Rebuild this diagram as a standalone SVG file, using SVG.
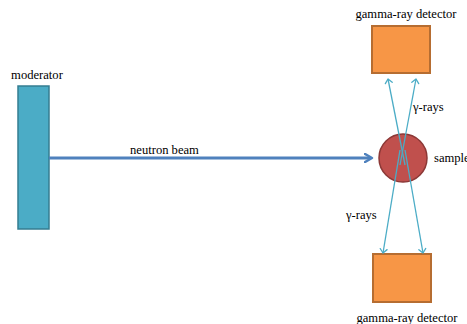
<svg xmlns="http://www.w3.org/2000/svg" width="467" height="324" viewBox="0 0 467 324">
<defs>
<style>
.t{font-family:"Liberation Serif","Times New Roman",Times,"DejaVu Serif",serif;font-size:12.6px;fill:#000}
.det{fill:#F79646;stroke:#B66D31;stroke-width:2}
.ray{stroke:#4BACC6;stroke-width:1.3;fill:none}
</style>
<marker id="beamhead" markerWidth="10" markerHeight="10" refX="7" refY="5" orient="auto" markerUnits="userSpaceOnUse">
<path d="M1,1 L8,5 L1,9" fill="none" stroke="#4F81BD" stroke-width="2.5" stroke-linecap="round" stroke-linejoin="round"/>
</marker>
<marker id="rayhead" markerWidth="10" markerHeight="10" refX="5" refY="5" orient="auto" markerUnits="userSpaceOnUse">
<path d="M1,1.5 L5,5 L1,8.5" fill="none" stroke="#4BACC6" stroke-width="1.3" stroke-linecap="round" stroke-linejoin="round"/>
</marker>
</defs>
<g id="moderator">
<rect x="18" y="86" width="31" height="143" fill="#4BACC6" stroke="#357D91" stroke-width="1.5"/>
<text class="t" x="37" y="79" text-anchor="middle" font-family="Liberation Serif">moderator</text>
</g>
<g id="sample">
<circle cx="403" cy="158" r="24" fill="#C0504D" stroke="#8C3836" stroke-width="1.5"/>
<text class="t" x="434" y="162" font-family="Liberation Serif">sample</text>
</g>
<g id="detector-top">
<rect class="det" x="372" y="26" width="58" height="47"/>
<text class="t" x="406" y="18" text-anchor="middle" font-family="Liberation Serif">gamma-ray detector</text>
</g>
<g id="detector-bottom">
<rect class="det" x="373" y="254" width="58" height="48"/>
<text class="t" x="407" y="322" text-anchor="middle" font-family="Liberation Serif">gamma-ray detector</text>
</g>
<g id="connectors">
<line x1="49" y1="158" x2="371" y2="158" stroke="#4F81BD" stroke-width="3" marker-end="url(#beamhead)"/>
<line class="ray" x1="405" y1="165" x2="388" y2="79" marker-end="url(#rayhead)"/>
<line class="ray" x1="400" y1="165" x2="416" y2="79" marker-end="url(#rayhead)"/>
<line class="ray" x1="405" y1="150" x2="423" y2="253" marker-end="url(#rayhead)"/>
<line class="ray" x1="400" y1="150" x2="383" y2="253" marker-end="url(#rayhead)"/>
<text class="t" x="413" y="111" font-family="Liberation Serif">γ-rays</text>
<text class="t" x="346" y="219" font-family="Liberation Serif">γ-rays</text>
<text class="t" x="130" y="154" font-family="Liberation Serif">neutron beam</text>
</g>
</svg>
